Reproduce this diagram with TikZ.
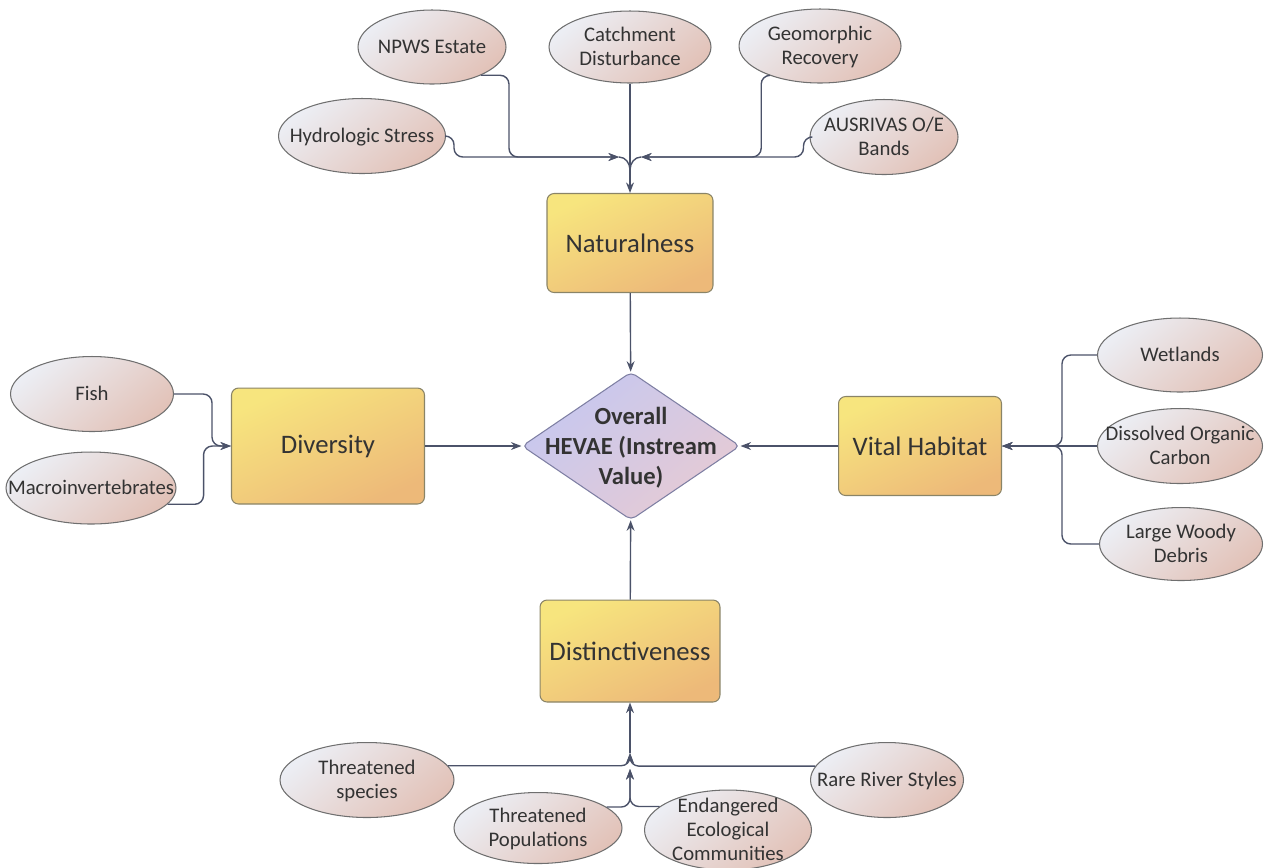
\documentclass[tikz,border=0pt]{standalone}
\usepackage{fontspec}
\setmainfont{Carlito}
\usetikzlibrary{positioning,arrows.meta,shapes.geometric}

\definecolor{wire}{HTML}{4B5269}
\definecolor{leafedge}{HTML}{6F6F6F}
\definecolor{leaftop}{HTML}{ECEEF4}
\definecolor{leafbot}{HTML}{E2C2B8}
\definecolor{boxedge}{HTML}{8A8467}
\definecolor{boxtop}{HTML}{F7E57E}
\definecolor{boxbot}{HTML}{EDB979}
\definecolor{hevedge}{HTML}{7E7FA3}
\definecolor{hevtop}{HTML}{C6C8F0}
\definecolor{hevbot}{HTML}{E6CAD4}
\definecolor{ink}{HTML}{333333}

% text of fixed-size shapes
\newcommand{\lbl}[1]{\makebox[0pt]{\raisebox{\dimexpr-.5\height+1pt\relax}[0pt][0pt]{\begin{tabular}[b]{@{}c@{}}#1\end{tabular}}}}

\begin{document}
\begin{tikzpicture}[
  x=0.02cm, y=-0.02cm,
  leaf/.style={ellipse,draw=leafedge,line width=0.6pt,top color=leaftop,bottom color=leafbot,shading angle=40,inner sep=0pt,text=ink,font=\fontsize{11.8}{13.5}\selectfont},
  factor/.style={draw=boxedge,line width=0.6pt,rounded corners=4pt,top color=boxtop,bottom color=boxbot,shading angle=25,text=ink,font=\fontsize{15.2}{18}\selectfont},
  hevae/.style={diamond,draw=hevedge,line width=0.6pt,rounded corners=3pt,top color=hevtop,bottom color=hevbot,shading angle=40,inner sep=0pt,text=ink,font=\bfseries\fontsize{14}{17}\selectfont},
  link/.style={draw=wire,line width=0.8pt,rounded corners=5pt,-{Stealth[length=6pt,width=4.5pt]}},
  wire/.style={draw=wire,line width=0.8pt},
]
  \useasboundingbox (0,0) rectangle (1266,867);

  % Centre
  \node[hevae,minimum width=4.36cm,minimum height=2.96cm] (hev) at (631,446) {\lbl{Overall\\HEVAE (Instream\\Value)}};

  % Criteria
  \node[factor,minimum width=3.32cm,minimum height=1.98cm] (nat) at (630,243) {Naturalness};
  \node[factor,minimum width=3.86cm,minimum height=2.32cm] (div) at (328,446) {Diversity};
  \node[factor,minimum width=3.26cm,minimum height=1.98cm] (vit) at (920,446) {Vital Habitat};
  \node[factor,minimum width=3.6cm,minimum height=2.04cm] (dist) at (630,651) {Distinctiveness};

  % Naturalness inputs
  \node[leaf,minimum width=3.34cm,minimum height=1.5cm] (hydro) at (362,136) {\lbl{Hydrologic Stress}};
  \node[leaf,minimum width=2.96cm,minimum height=1.48cm] (npws) at (432,47) {\lbl{NPWS Estate}};
  \node[leaf,minimum width=3.24cm,minimum height=1.44cm] (catch) at (630,47) {\lbl{Catchment\\Disturbance}};
  \node[leaf,minimum width=3.24cm,minimum height=1.48cm] (geo) at (820,46) {\lbl{Geomorphic\\Recovery}};
  \node[leaf,minimum width=2.96cm,minimum height=1.5cm] (aus) at (884,137) {\lbl{AUSRIVAS O/E\\Bands}};

  % Diversity inputs
  \node[leaf,minimum width=3.26cm,minimum height=1.5cm] (fish) at (92,394) {\lbl{Fish}};
  \node[leaf,minimum width=3.4cm,minimum height=1.44cm] (macro) at (91,488) {\lbl{Macroinvertebrates}};

  % Vital habitat inputs
  \node[leaf,minimum width=3.3cm,minimum height=1.48cm] (wet) at (1180,355) {\lbl{Wetlands}};
  \node[leaf,minimum width=3.3cm,minimum height=1.5cm] (dis) at (1180,446) {\lbl{Dissolved Organic\\Carbon}};
  \node[leaf,minimum width=3.26cm,minimum height=1.46cm] (lwd) at (1181,544) {\lbl{Large Woody\\Debris}};

  % Distinctiveness inputs
  \node[leaf,minimum width=3.48cm,minimum height=1.5cm] (tspec) at (367,780) {\lbl{Threatened\\species}};
  \node[leaf,minimum width=3.36cm,minimum height=1.42cm] (tpop) at (538,828) {\lbl{Threatened\\Populations}};
  \node[leaf,minimum width=3.34cm,minimum height=1.6cm] (eco) at (728,830) {\lbl{Endangered\\Ecological\\Communities}};
  \node[leaf,minimum width=3.06cm,minimum height=1.5cm] (rare) at (887,780) {\lbl{Rare River Styles}};

  % Junctions
  \coordinate (jl) at (619,157);
  \coordinate (jr) at (641,157);
  \coordinate (jt) at (630,170);
  \coordinate (ja) at (630,753);
  \coordinate (jb) at (630,769);

  % Edges: naturalness
  \draw[link] (hydro.east) -- ++(8,0) |- (jl);
  \draw[link] (npws.-30) -- ++(28,0) |- (jl);
  \draw[link] (geo.210) -- ++(-8,0) |- (jr);
  \draw[link] (aus.west) -- ++(-6,0) |- (jr);
  \draw[link] (catch) -- (nat);
  \draw[wire] (jl) to[out=0,in=90] (jt);
  \draw[wire] (jr) to[out=180,in=90] (jt);

  % Edges: diversity
  \draw[link] (fish.east) -- ++(38,0) |- (div.west);
  \draw[link] (macro.-12) -- ++(36,0) |- (div.west);

  % Edges: vital habitat
  \draw[link] (wet.west) -- ++(-35,0) |- (vit.east);
  \draw[link] (dis.west) -- (vit.east);
  \draw[link] (lwd.west) -- ++(-37,0) |- (vit.east);

  % Edges: distinctiveness
  \draw[link] (tspec.10) -| (ja);
  \draw[link] (rare.169) -| (ja);
  \draw[link] (tpop.17) -| (jb);
  \draw[link] (eco.161) -| (jb);
  \draw[link] (ja) -- (dist);

  % Edges: overall
  \draw[link] (nat) -- (hev);
  \draw[link] (div) -- (hev);
  \draw[link] (vit) -- (hev);
  \draw[link] (dist) -- (hev);
\end{tikzpicture}
\end{document}
